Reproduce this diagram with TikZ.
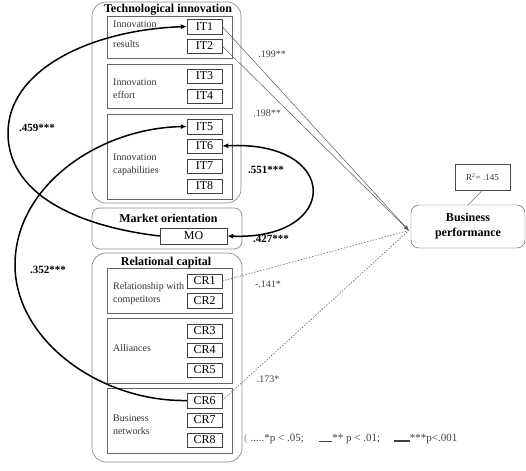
\documentclass[tikz,border=0pt]{standalone}
\usepackage{fontspec}
\setmainfont{Liberation Serif}
\usetikzlibrary{arrows.meta}

\begin{document}
\begin{tikzpicture}[x=1pt,y=-1pt,
  item/.style={draw=black!75,minimum width=35pt,minimum height=14.5pt,inner sep=0pt,font=\fontsize{12}{12}\selectfont},
  grp/.style={draw=black!45,rounded corners=14pt,line width=0.7pt},
  sub/.style={draw=black!60,line width=0.6pt},
  lbl/.style={font=\fontsize{10}{13}\selectfont,text=black!80,align=left,anchor=west,inner sep=0pt},
  ttl/.style={font=\fontsize{12}{12}\selectfont\bfseries,inner sep=1pt},
  coef/.style={font=\fontsize{10}{10}\selectfont,text=black!75,inner sep=1pt},
  sig/.style={font=\fontsize{11}{11}\selectfont\bfseries,inner sep=1pt},
  corr/.style={line width=1.5pt,-{Latex[length=6pt,width=5pt]}},
  corrboth/.style={line width=1.5pt,{Latex[length=6pt,width=5pt]}-{Latex[length=6pt,width=5pt]}},
  effect/.style={draw=black!65,line width=0.5pt,-{Latex[length=5pt,width=4pt]}},
  weak/.style={draw=black!60,line width=0.6pt,dash pattern=on 1.5pt off 1.5pt}]
  \useasboundingbox (0,0) rectangle (526,470);

  % construct groups
  \draw[grp] (92,2) rectangle (241,203);
  \draw[grp,rounded corners=8pt] (92,208) rectangle (242,249);
  \draw[grp] (92,253) rectangle (242,462);
  \node[ttl] (tech) at (168,10) {Technological innovation};
  \node[ttl] (market) at (168.5,218) {Market orientation};
  \node[ttl] (relcap) at (166,263) {Relational capital};

  % dimensions
  \draw[sub] (107,16) rectangle (232,58);
  \draw[sub] (107,64) rectangle (232,108);
  \draw[sub] (107,114) rectangle (232,199);
  \draw[sub] (107,268) rectangle (232,313);
  \draw[sub] (107,318) rectangle (232,383);
  \draw[sub] (107,388) rectangle (232,453);
  \node[lbl] (dres) at (113,34) {Innovation\\[7pt]results};
  \node[lbl] (deff) at (113,88.5) {Innovation\\effort};
  \node[lbl] (dcap) at (113,165) {Innovation\\capabilities};
  \node[lbl] (dcomp) at (113,293.5) {Relationship with\\competitors};
  \node[lbl] (dall) at (113,348) {Alliances};
  \node[lbl] (dnet) at (113,424.5) {Business\\networks};

  % indicators
  \node[item] (it1) at (204.5,26.5) {IT1};
  \node[item] (it2) at (204.5,46) {IT2};
  \node[item] (it3) at (204.5,76) {IT3};
  \node[item] (it4) at (204.5,96) {IT4};
  \node[item] (it5) at (204.5,126.5) {IT5};
  \node[item] (it6) at (204.5,146) {IT6};
  \node[item] (it7) at (204.5,166) {IT7};
  \node[item] (it8) at (204.5,186) {IT8};
  \node[item,minimum width=67pt,minimum height=16pt] (mo) at (193.5,236) {MO};
  \node[item] (cr1) at (204.5,281) {CR1};
  \node[item] (cr2) at (204.5,300.5) {CR2};
  \node[item] (cr3) at (204.5,331) {CR3};
  \node[item] (cr4) at (204.5,350) {CR4};
  \node[item] (cr5) at (204.5,370) {CR5};
  \node[item] (cr6) at (204.5,400.5) {CR6};
  \node[item] (cr7) at (204.5,420) {CR7};
  \node[item] (cr8) at (204.5,440) {CR8};

  % outcome
  \node[draw=black!70,rounded corners=8pt,minimum width=114pt,minimum height=43pt,
    align=center,font=\fontsize{12}{15}\selectfont\bfseries] (bp) at (468,226.5) {Business\\performance};
  \node[draw=black!70,minimum width=55pt,minimum height=26pt,
    font=\fontsize{9}{9}\selectfont,text=black!80] (r2) at (482.5,177) {R\textsuperscript{2}= .145};
  \draw[black!60] (r2.south) -- (bp.north);
  \coordinate (bpin) at ([xshift=-2pt,yshift=-4pt]bp.west);

  % direct effects
  \draw[effect] (it1.east) -- (bpin);
  \draw[effect] (it2.east) -- (bpin);
  \draw[weak] (cr1.east) -- (bpin);
  \draw[weak] (cr6.east) -- (bpin);
  \node[coef] (b199) at (272,54) {.199**};
  \node[coef] (b198) at (267,113) {.198**};
  \node[coef] (b141) at (268,284) {-.141*};
  \node[coef] (b173) at (268,379) {.173*};

  % correlations
  \coordinate (l459) at (8,133);
  \coordinate (l352) at (15,265);
  \draw[corr] (mo.west) .. controls (90,228) and (8,200) .. (l459)
    .. controls (8,70) and (90,30) .. (it1.west);
  \draw[corr] (cr6.west) .. controls (100,402) and (15,340) .. (l352)
    .. controls (15,185) and (100,128) .. (it5.west);
  \draw[corrboth] (it6.east) .. controls (341,140) and (341,240) .. (mo.east);
  \node[sig] (r459) at (37,128) {.459***};
  \node[sig] (r352) at (48,270) {.352***};
  \node[sig] (r551) at (266,170) {.551***};
  \node[sig] (r427) at (271,239) {.427***};

  % key
  \node[coef,anchor=west,font=\fontsize{11}{11}\selectfont] (key) at (243,439) {\textcolor{black!40}{(}\ .....*p < .05;\quad\,
    \rule{13pt}{0.5pt}** p < .01;\quad\ \rule{16pt}{2pt}***p<.001};
\end{tikzpicture}
\end{document}
